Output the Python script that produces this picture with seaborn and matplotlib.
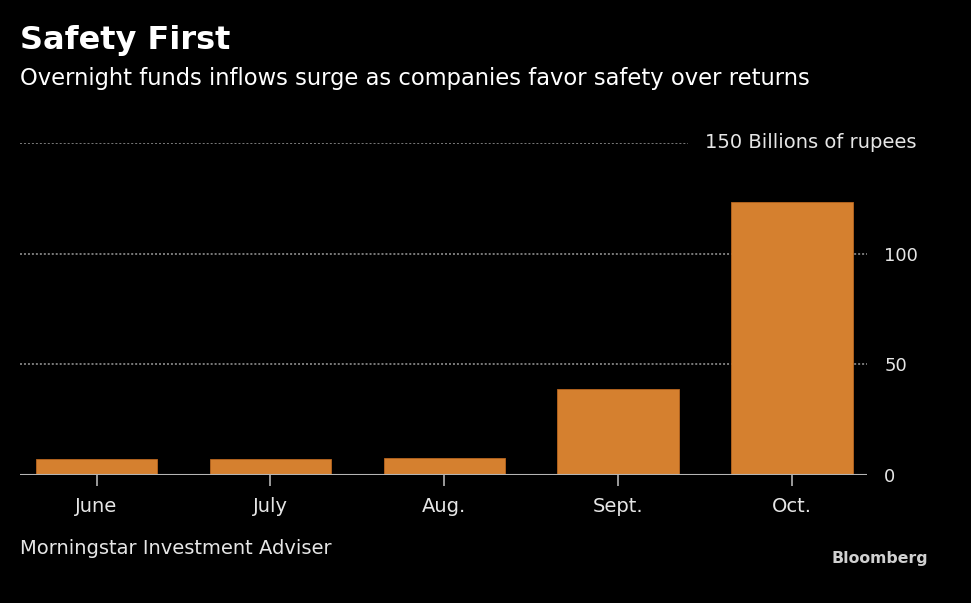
import pandas as pd
import seaborn as sns
import matplotlib.pyplot as plt

# Dados (bilhões de rúpias)
months = ["June", "July", "Aug.", "Sept.", "Oct."]
inflows = [7.1, 7.1, 7.7, 38.9, 123.2]
y_ticks = [0, 50, 100]
top_tick = 150

df = pd.DataFrame({"Month": months, "Inflow": inflows})

sns.set_style("dark")
plt.rcParams["font.family"] = ["DejaVu Sans"]

bg = "black"
orange = "#d5802f"
txt = "#e6e6e6"
grid = "#9a9a9a"

fig = plt.figure(figsize=(9.71, 6.03), dpi=100, facecolor=bg)
ax = fig.add_axes([0.0206, 0.2123, 0.8723, 0.5506])
ax.set_facecolor(bg)

sns.barplot(data=df, x="Month", y="Inflow", color=orange, width=0.70,
            saturation=1, edgecolor="#b8661f", linewidth=0.6, ax=ax, zorder=3)

ax.set_xlim(-0.44, 4.43)
ax.set_ylim(0, 150)

# linhas de grade pontilhadas
dots = (0, (1.3, 1.3))
for v in y_ticks[1:]:
    ax.axhline(v, color=grid, linestyle=dots, linewidth=1.1, zorder=1)
ax.axhline(top_tick, xmax=0.789, color=grid, linestyle=dots, linewidth=1.1, zorder=1)
ax.axhline(0, color="#b5b5b5", linewidth=1.5, zorder=4)

for s in ax.spines.values():
    s.set_visible(False)

ax.yaxis.tick_right()
ax.set_yticks(y_ticks)
ax.set_yticklabels([str(v) for v in y_ticks])
ax.tick_params(axis="y", left=False, right=False, length=0, pad=12.3,
               labelsize=13, labelcolor=txt)
ax.tick_params(axis="x", bottom=True, length=8, width=1.2, color="#b5b5b5", pad=8,
               labelsize=14, labelcolor=txt, direction="out")
ax.set_xlabel("")
ax.set_ylabel("")
ax.grid(False)

ax.text(1.058, top_tick, "150 Billions of rupees", transform=ax.get_yaxis_transform(),
        ha="right", va="center", fontsize=14, color=txt)

fig.text(0.0206, 0.933, "Safety First", fontsize=23, fontweight="bold", color="white",
         va="center", ha="left")
fig.text(0.0206, 0.870, "Overnight funds inflows surge as companies favor safety over returns",
         fontsize=16.3, color="white", va="center", ha="left")
fig.text(0.0206, 0.090, "Morningstar Investment Adviser", fontsize=14, color=txt,
         va="center", ha="left")
fig.text(0.956, 0.074, "Bloomberg", fontsize=11.3, fontweight="bold", color="#d0d0d0",
         va="center", ha="right")

fig.savefig("out.png", dpi=100, facecolor=bg)
